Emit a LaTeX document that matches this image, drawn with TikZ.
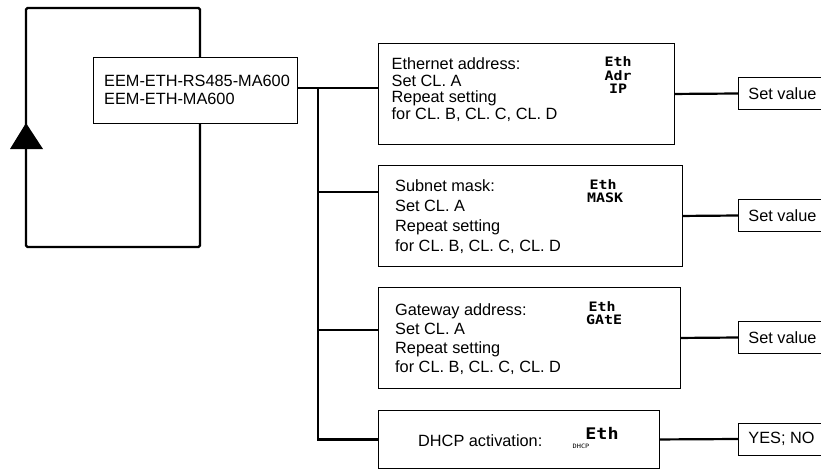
\documentclass[tikz,border=0pt]{standalone}
\usepackage{fontspec}
\setmainfont{Liberation Sans}
\newfontfamily\segfont[FakeStretch=1.15]{DejaVu Sans Mono}
\begin{document}
\begin{tikzpicture}[x=1pt,y=-1pt,
  box/.style={draw, line width=0.9pt, fill=white, anchor=north west, inner sep=0pt},
  conn/.style={line width=2.2pt},
  txt/.style={anchor=base west, align=left, inner sep=0pt},
  valbox/.style={draw, line width=0.9pt, fill=white, anchor=west, inner xsep=10pt, inner ysep=0pt, minimum height=32pt, font=\fontsize{16.3}{18}\selectfont},
  seg/.style={inner sep=0pt, font=\segfont\bfseries\fontsize{13}{13}\selectfont}]
\useasboundingbox (0,0) rectangle (821,469);
% feedback loop
\draw[line width=2.4pt, rounded corners=1.5pt] (26,8) rectangle (200,247);
\fill (26,123) -- (43,149) -- (10,149) -- cycle;
% main box
\node[box, minimum width=204pt, minimum height=66pt] (m) at (93,57) {};
% (base anchor of a multi-line node = baseline of its last line)
\node[txt, font=\fontsize{16.3}{18}\selectfont] (mt) at (104,104) {EEM-ETH-RS485-MA600\\EEM-ETH-MA600};
% setting boxes
\node[box, minimum width=296pt, minimum height=101pt] (b1) at (378,43) {};
\node[box, minimum width=304pt, minimum height=101pt] (b2) at (378,165) {};
\node[box, minimum width=302pt, minimum height=101pt] (b3) at (378,287) {};
\node[box, minimum width=281pt, minimum height=58pt] (b4) at (378,410) {};
\node[txt, font=\fontsize{16.3}{16.7}\selectfont] (t1) at (391.5,119.4) {Ethernet address:\\Set CL. A\\Repeat setting\\for CL. B, CL. C, CL. D};
\node[txt, font=\fontsize{16.3}{20}\selectfont] (t2) at (395,251) {Subnet mask:\\Set CL. A\\Repeat setting\\for CL. B, CL. C, CL. D};
\node[txt, font=\fontsize{16.3}{19}\selectfont] (t3) at (395,372) {Gateway address:\\Set CL. A\\Repeat setting\\for CL. B, CL. C, CL. D};
\node[txt, font=\fontsize{16.3}{18}\selectfont] (t4) at (418,446) {DHCP activation:};
% display symbols
\node[seg] (e1) at (618,62) {Eth};
\node[seg] (a1) at (618,75.5) {Adr};
\node[seg] (i1) at (618,88.5) {IP};
\node[seg] (e2) at (603,185) {Eth};
\node[seg] (k2) at (605,198) {MASK};
\node[seg] (e3) at (602,307) {Eth};
\node[seg] (g3) at (604,320) {GAtE};
\node[seg, font=\segfont\bfseries\fontsize{16}{16}\selectfont] (e4) at (602,433) {Eth};
\node[seg, font=\segfont\fontsize{6}{6}\selectfont] (d4) at (581,446) {DHCP};
% value boxes
\node[valbox] (s1) at (738,93.5) {Set value};
\node[valbox] (s2) at (738,215.5) {Set value};
\node[valbox] (s3) at (738,337.5) {Set value};
\node[valbox] (s4) at (738,439) {YES; NO};
% connectors
\coordinate (j) at (318,88);
\draw[conn] (m.east |- j) -- (b1.west |- j);
\draw[conn] (j) |- (b4.west);
\draw[conn] (j |- 0,192) -- (b2.west |- 0,192);
\draw[conn] (j |- 0,330) -- (b3.west |- 0,330);
\draw[conn] (b1.east) -- (s1.west);
\draw[conn] (b2.east) -- (s2.west);
\draw[conn] (b3.east) -- (s3.west);
\draw[conn] (b4.east) -- (s4.west);
\end{tikzpicture}
\end{document}
